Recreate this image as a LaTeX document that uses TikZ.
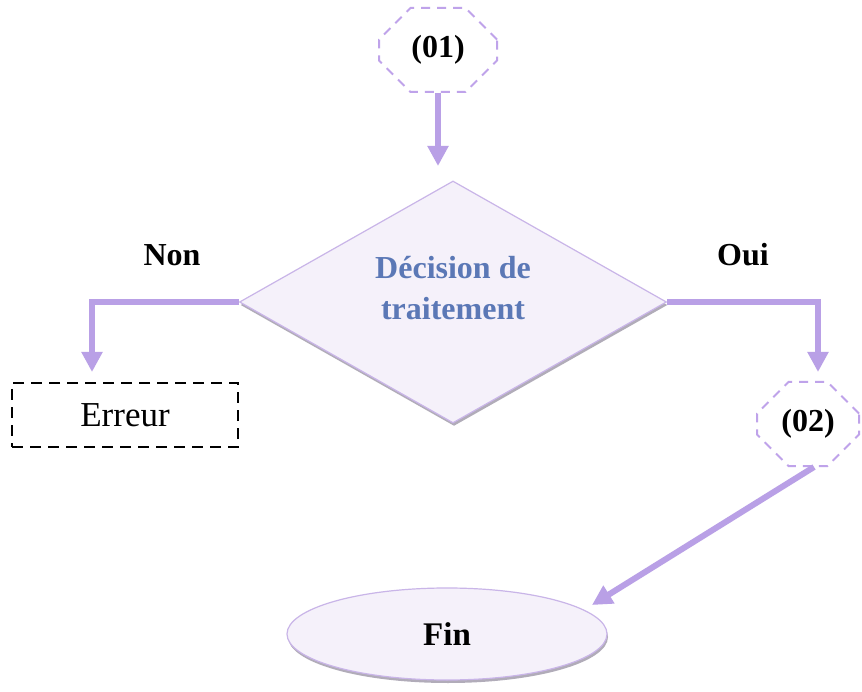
\documentclass[tikz,border=0pt]{standalone}
\usepackage{fontspec}
\setmainfont{Liberation Serif}
\usetikzlibrary{shapes.geometric,shapes.misc,arrows.meta,shadows,calc}
\definecolor{lav}{HTML}{B9A0E6}
\definecolor{lavline}{HTML}{C9B5E8}
\definecolor{lavfill}{HTML}{F5F1FA}
\definecolor{lavdash}{HTML}{BFA3EA}
\definecolor{decblue}{HTML}{5B78B6}
\tikzset{
  octo/.style={chamfered rectangle, chamfered rectangle xsep=19pt, chamfered rectangle ysep=17pt,
    draw=lavdash, line width=2pt,
    dash pattern=on 9pt off 7pt, minimum width=118pt, minimum height=84pt, inner sep=0pt,
    font=\fontsize{32}{36}\selectfont\bfseries},
  flow/.style={draw=lav, line width=6pt, -{Triangle[width=20pt,length=20pt,fill=lav]}},
  lbl/.style={font=\fontsize{32}{36}\selectfont\bfseries},
  shapeshadow/.style={drop shadow={shadow xshift=1pt, shadow yshift=-3pt, opacity=.5, fill=black!50!lavline}},
}
\begin{document}
\begin{tikzpicture}[x=1pt,y=-1pt]
\useasboundingbox[fill=white] (0,0) rectangle (862,692);
\node[octo] (o1) at (438,50) {(01)};
\node[diamond, aspect=1.76, minimum width=427pt, minimum height=242pt, inner sep=0pt,
  draw=lavline, line width=1.2pt, fill=lavfill, shapeshadow] (dia) at (453,302) {};
\node[text=decblue, align=center, font=\fontsize{32}{41}\selectfont\bfseries] (dtxt) at (453,288)
  {Décision de\\traitement};
\node[lbl] (non) at (172,255) {Non};
\node[lbl] (oui) at (743,255) {Oui};
\node[draw=black, line width=2.6pt, dash pattern=on 11pt off 7pt, minimum width=226pt,
  minimum height=64pt, inner sep=0pt, font=\fontsize{35}{40}\selectfont] (err) at (125,415) {Erreur};
\node[octo, minimum width=102pt] (o2) at (808,424) {(02)};
\node[ellipse, minimum width=320pt, minimum height=92pt, inner sep=0pt, draw=lavline,
  line width=1.2pt, fill=lavfill, shapeshadow, font=\fontsize{33}{36}\selectfont\bfseries] (fin) at (447,634) {Fin};
\coordinate (o1end) at (438,166);
\coordinate (nonend) at (92,383);
\coordinate (ouiend) at (818,382);
\coordinate (o2start) at (814,467);
\coordinate (finend) at (592,605);
\draw[flow] (o1.south) -- (o1end);
\draw[flow, shorten >=11pt] (dia.west) -| (nonend);
\draw[flow, shorten >=10pt] (dia.east) -| (ouiend);
\draw[flow] (o2start) -- (finend);
\end{tikzpicture}
\end{document}
